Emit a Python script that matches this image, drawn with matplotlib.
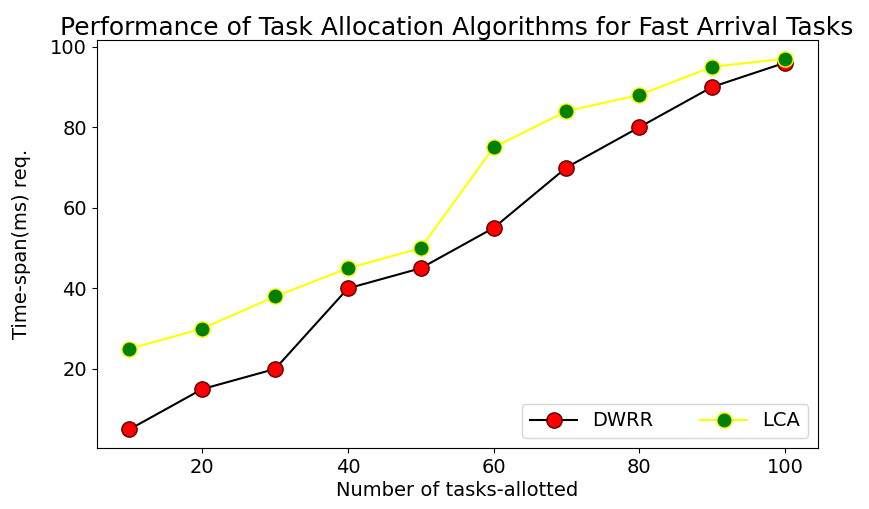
import matplotlib
matplotlib.use("Agg")
import matplotlib.pyplot as plt

# datos
tareas = [10, 20, 30, 40, 50, 60, 70, 80, 90, 100]
dwrr = [5, 15, 20, 40, 45, 55, 70, 80, 90, 96]
lca = [25, 30, 38, 45, 50, 75, 84, 88, 95, 97]

plt.rcParams['font.size'] = 14

fig = plt.figure(figsize=(8.7, 5.09), dpi=100)
ax = fig.add_axes([0.111, 0.12, 0.829, 0.801])

ax.plot(tareas, dwrr, color="black", linewidth=1.5, marker="o", markersize=11,
        markerfacecolor="red", markeredgecolor="#5a0000", label="DWRR")
ax.plot(tareas, lca, color="yellow", linewidth=1.5, marker="o", markersize=11,
        markerfacecolor="green", markeredgecolor="yellow", label="LCA")

ax.set_xlabel('Number of tasks-allotted', labelpad=3)
ax.set_ylabel('Time-span(ms) req.', labelpad=14)
ax.set_title('Performance of Task Allocation Algorithms for Fast Arrival Tasks', fontsize=18, pad=4)
ax.legend(loc='lower right', ncol=2, handlelength=2.4, columnspacing=2.4)

fig.savefig("out.png")
